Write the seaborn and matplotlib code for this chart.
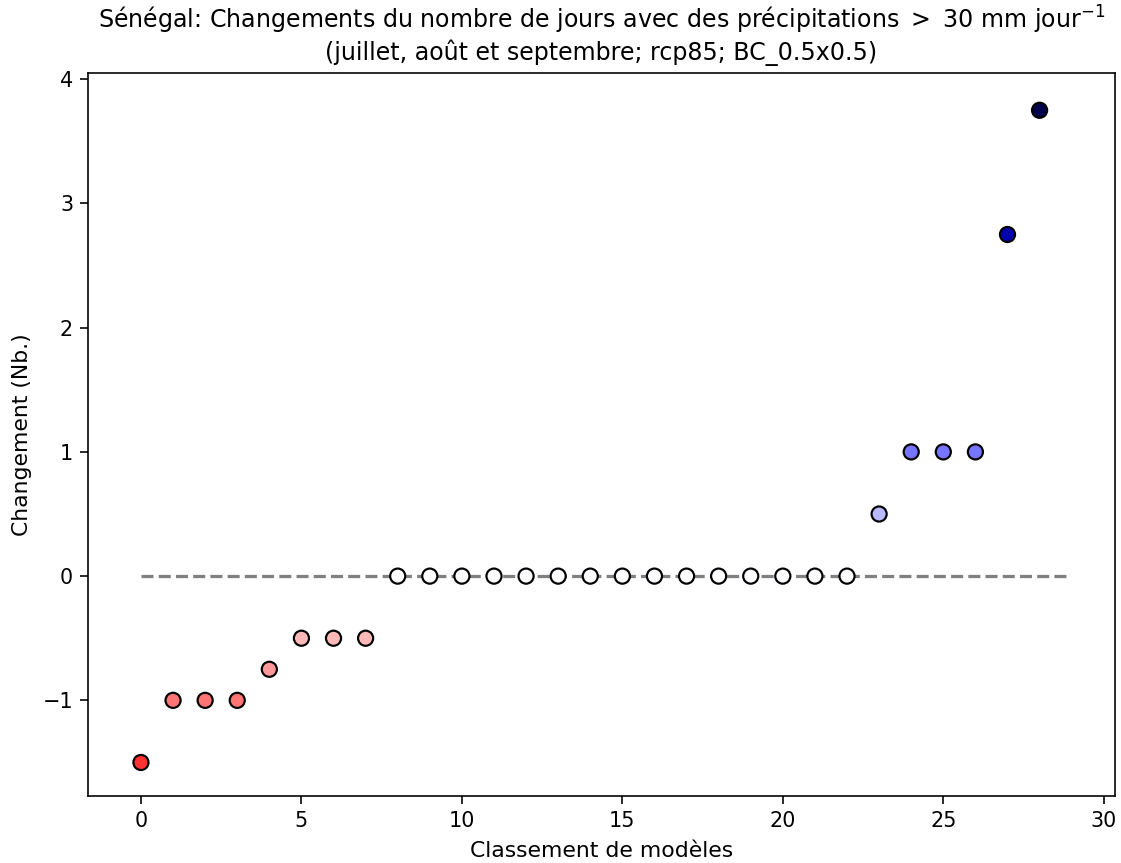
import matplotlib
matplotlib.use("Agg")
import matplotlib.pyplot as plt
import seaborn as sns
import pandas as pd
import numpy as np

rank = list(range(29))
change = [-1.5, -1.0, -1.0, -1.0, -0.75, -0.5, -0.5, -0.5,
          0, 0, 0, 0, 0, 0, 0, 0, 0, 0, 0, 0, 0, 0, 0,
          0.5, 1.0, 1.0, 1.0, 2.75, 3.75]
title = "Sénégal: Changements du nombre de jours avec des précipitations $>$ 30 mm jour$^{-1}$\n(juillet, août et septembre; rcp85; BC_0.5x0.5)"
xlabel = "Classement de modèles"
ylabel = "Changement (Nb.)"

df = pd.DataFrame({"rank": rank, "change": change})

sns.set_style("ticks")
plt.rcParams['font.family'] = ['DejaVu Sans']
plt.rcParams['mathtext.default'] = 'regular'
plt.rcParams['text.color'] = 'black'
plt.rcParams['axes.labelcolor'] = 'black'
plt.rcParams['xtick.color'] = 'black'
plt.rcParams['ytick.color'] = 'black'

dpi = 130
fig = plt.figure(figsize=(1121 / dpi, 863 / dpi), dpi=dpi)
ax = fig.add_axes([88 / 1121, 1 - 796 / 863, (1115 - 88) / 1121, (796 - 73) / 863])

vmax = max(abs(v) for v in change)
ax.hlines(0, 0, 28.9, colors="grey", linestyles="--", linewidth=1.8, zorder=1)
sns.scatterplot(data=df, x="rank", y="change", hue="change", palette="seismic_r",
                hue_norm=(-vmax, vmax), s=70, edgecolor="black", linewidth=1.2,
                legend=False, ax=ax, zorder=3)

ax.set_xlim(-1.65, 30.35)
ax.set_ylim(-1.77, 4.05)
ax.set_xticks([0, 5, 10, 15, 20, 25, 30])
ax.set_yticks([-1, 0, 1, 2, 3, 4])
ax.set_yticklabels(["\u22121", "0", "1", "2", "3", "4"])
ax.tick_params(labelsize=11.5, direction="out", length=4.2, width=0.9, colors="black", pad=4)
for s in ax.spines.values():
    s.set_visible(True)
    s.set_linewidth(0.9)
    s.set_color("black")
ax.set_xlabel(xlabel, fontsize=12.1, labelpad=5.5)
ax.set_ylabel(ylabel, fontsize=12.1, labelpad=6)
ax.set_title(title, fontsize=13.2, pad=7)

fig.savefig("out.png", dpi=dpi)
